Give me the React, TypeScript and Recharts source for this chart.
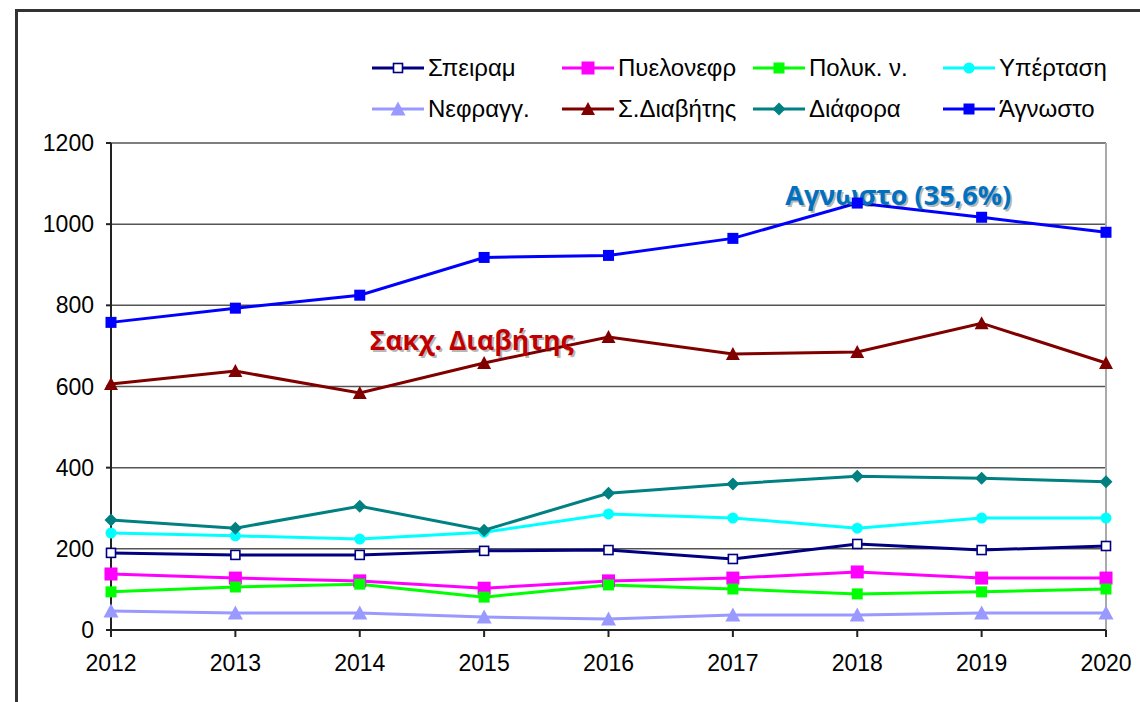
import React from 'react';
import { LineChart, Line, XAxis, YAxis, CartesianGrid, Legend, ReferenceLine, ReferenceDot, Label } from 'recharts';

const years = ['2012', '2013', '2014', '2015', '2016', '2017', '2018', '2019', '2020'];
const speiram = [190, 185, 185, 195, 197, 175, 212, 197, 207];
const pyelonefr = [138, 128, 121, 103, 121, 128, 143, 128, 128];
const polyk = [94, 106, 113, 81, 111, 101, 89, 94, 101];
const ypertasi = [239, 232, 224, 241, 286, 276, 251, 276, 276];
const nefragg = [47, 42, 42, 32, 27, 37, 37, 42, 42];
const diavitis = [606, 638, 584, 658, 722, 680, 685, 756, 658];
const diafora = [271, 251, 305, 246, 337, 360, 379, 374, 365];
const agnosto = [758, 793, 825, 918, 923, 965, 1052, 1017, 980];
const yTicks = [0, 200, 400, 600, 800, 1000, 1200];

const data = years.map((y, i) => ({
  year: y,
  speiram: speiram[i],
  pyelonefr: pyelonefr[i],
  polyk: polyk[i],
  ypertasi: ypertasi[i],
  nefragg: nefragg[i],
  diavitis: diavitis[i],
  diafora: diafora[i],
  agnosto: agnosto[i],
}));

type Shape = 'openSquare' | 'square' | 'circle' | 'triangle' | 'diamond';

const series: { key: string; name: string; color: string; shape: Shape; size: number }[] = [
  { key: 'speiram', name: 'Σπειραμ', color: '#000080', shape: 'openSquare', size: 9 },
  { key: 'pyelonefr', name: 'Πυελονεφρ', color: '#FF00FF', shape: 'square', size: 13 },
  { key: 'polyk', name: 'Πολυκ. ν.', color: '#00FF00', shape: 'square', size: 11 },
  { key: 'ypertasi', name: 'Υπέρταση', color: '#00FFFF', shape: 'circle', size: 11 },
  { key: 'nefragg', name: 'Νεφραγγ.', color: '#9999FF', shape: 'triangle', size: 13 },
  { key: 'diavitis', name: 'Σ.Διαβήτης', color: '#800000', shape: 'triangle', size: 12 },
  { key: 'diafora', name: 'Διάφορα', color: '#008080', shape: 'diamond', size: 13 },
  { key: 'agnosto', name: 'Άγνωστο', color: '#0000FF', shape: 'square', size: 11 },
];

function marker(shape: Shape, color: string, size: number, cx: number, cy: number, key?: any) {
  const h = size / 2;
  if (shape === 'openSquare')
    return <rect key={key} x={cx - h} y={cy - h} width={size} height={size} fill="#fff" stroke={color} strokeWidth={1.6} />;
  if (shape === 'square')
    return <rect key={key} x={cx - h} y={cy - h} width={size} height={size} fill={color} />;
  if (shape === 'circle') return <circle key={key} cx={cx} cy={cy} r={h} fill={color} />;
  if (shape === 'triangle')
    return <polygon key={key} points={`${cx},${cy - h - 1} ${cx + h + 1},${cy + h} ${cx - h - 1},${cy + h}`} fill={color} />;
  return <polygon key={key} points={`${cx},${cy - h} ${cx + h},${cy} ${cx},${cy + h} ${cx - h},${cy}`} fill={color} />;
}

const makeDot = (shape: Shape, color: string, size: number) => (props: any) => {
  const { cx, cy, index } = props;
  if (cx == null || cy == null) return <g key={index} />;
  return marker(shape, color, size, cx, cy, index);
};

const legendCols = [372, 562, 753, 943];
const legendRows = [68, 109];
const FONT = '"Liberation Sans", Arial, sans-serif';

const LegendContent = () => (
  <div style={{ position: 'relative', width: 1140, height: 0 }}>
    {series.map((s, i) => {
      const col = i % 4;
      const row = Math.floor(i / 4);
      const x = legendCols[col];
      const y = legendRows[row];
      return (
        <div key={s.key} style={{ position: 'absolute', left: x, top: y - 15, height: 30, display: 'flex', alignItems: 'center' }}>
          <svg width={52} height={30} style={{ display: 'block' }}>
            <line x1={0} y1={15} x2={52} y2={15} stroke={s.color} strokeWidth={3} />
            {marker(s.shape, s.color, s.size, 26, 15)}
          </svg>
          <span style={{ fontFamily: FONT, fontSize: 24, color: '#000', marginLeft: 4, whiteSpace: 'nowrap', lineHeight: '30px' }}>{s.name}</span>
        </div>
      );
    })}
  </div>
);

const annotation = (text: string, color: string, dx: number, width: number) => (props: any) => {
  const vb = props.viewBox || {};
  const x = (vb.x ?? 0) + (vb.width ?? 0) / 2 + dx;
  const y = (vb.y ?? 0) + (vb.height ?? 0) / 2;
  const common = {
    textAnchor: 'middle' as const,
    dominantBaseline: 'central' as const,
    fontFamily: '"Open Sans", "Noto Sans", sans-serif',
    fontWeight: 700,
    fontSize: 26,
    textLength: width,
    lengthAdjust: 'spacingAndGlyphs' as const,
  };
  return (
    <g>
      <text x={x + 2} y={y + 2} fill="#000" fillOpacity={0.28} {...common}>{text}</text>
      <text x={x} y={y} fill={color} {...common}>{text}</text>
    </g>
  );
};

export default function App() {
  return (
    <div style={{ position: 'absolute', left: 0, top: 0, width: 1140, height: 702, overflow: 'hidden', background: '#fff' }}>
      <div style={{ position: 'absolute', left: 15, top: 9, width: 2000, height: 2000, border: '3px solid #333', boxSizing: 'border-box' }} />
      <div style={{ position: 'absolute', left: 0, top: 0 }}>
        <LineChart width={1140} height={702} data={data} margin={{ top: 143, right: 34, bottom: 32, left: 0 }}>
          <CartesianGrid vertical={false} stroke="#555" strokeWidth={1.5} />
          <ReferenceLine x="2020" stroke="#aaa" strokeWidth={2} />
          <XAxis
            dataKey="year"
            stroke="#222"
            strokeWidth={2}
            tickSize={7}
            tickMargin={18}
            height={40}
            tick={{ fill: '#000', fontFamily: FONT, fontSize: 23 }}
            interval={0}
          />
          <YAxis
            domain={[0, 1200]}
            ticks={yTicks}
            width={111}
            stroke="#222"
            strokeWidth={2}
            tickSize={5}
            tickMargin={12}
            tick={{ fill: '#000', fontFamily: FONT, fontSize: 23 }}
            interval={0}
          />
          <Legend
            verticalAlign="top"
            content={<LegendContent />}
            wrapperStyle={{ position: 'absolute', left: 0, top: 0, width: 1140, height: 0, overflow: 'visible' }}
          />
          {series.map((s) => (
            <Line
              key={s.key}
              type="linear"
              dataKey={s.key}
              name={s.name}
              stroke={s.color}
              strokeWidth={3}
              dot={makeDot(s.shape, s.color, s.size)}
              activeDot={false}
              isAnimationActive={false}
            />
          ))}
          <ReferenceDot x="2018" y={1072} r={0} fill="none" stroke="none" ifOverflow="visible">
            <Label content={annotation('Αγνωστο (35,6%)', '#0070C0', 41, 226)} />
          </ReferenceDot>
          <ReferenceDot x="2014" y={714} r={0} fill="none" stroke="none" ifOverflow="visible">
            <Label content={annotation('Σακχ. Διαβήτης', '#C00000', 112, 204)} />
          </ReferenceDot>
        </LineChart>
      </div>
    </div>
  );
}
